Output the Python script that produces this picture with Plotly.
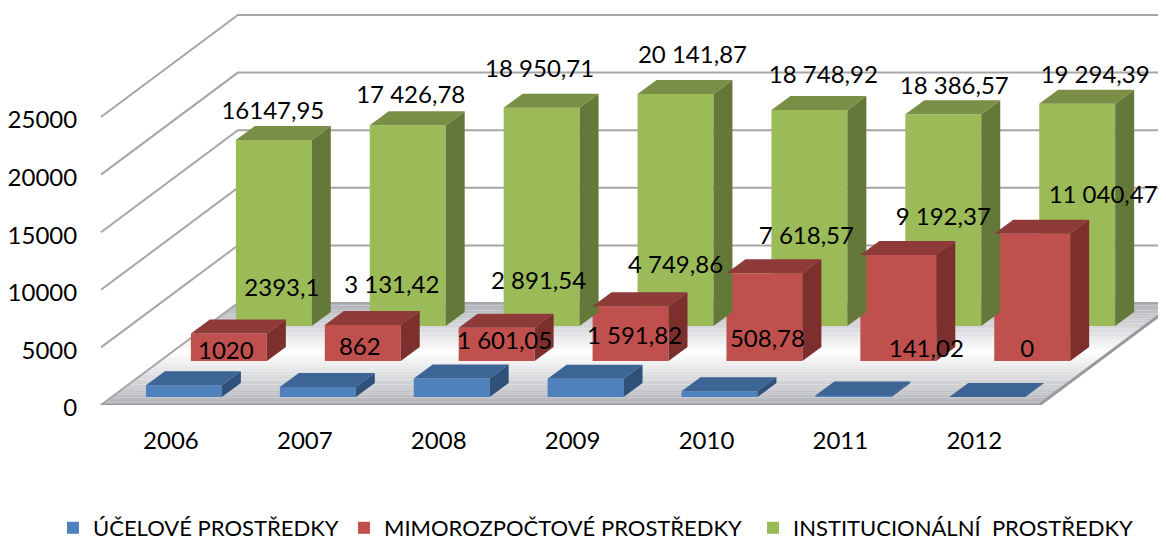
import plotly.graph_objects as go

years = ["2006", "2007", "2008", "2009", "2010", "2011", "2012"]
ucelove = [1020, 862, 1601.05, 1591.82, 508.78, 141.02, 0]
mimo = [2393.1, 3131.42, 2891.54, 4749.86, 7618.57, 9192.37, 11040.47]
inst = [16147.95, 17426.78, 18950.71, 20141.87, 18748.92, 18386.57, 19294.39]
labels_ucelove = ["1020", "862", "1 601,05", "1 591,82", "508,78", "141,02", "0"]
labels_mimo = ["2393,1", "3 131,42", "2 891,54", "4 749,86", "7 618,57", "9 192,37", "11 040,47"]
labels_inst = ["16147,95", "17 426,78", "18 950,71", "20 141,87", "18 748,92", "18 386,57", "19 294,39"]
names = ["ÚČELOVÉ PROSTŘEDKY", "MIMOROZPOČTOVÉ PROSTŘEDKY", "INSTITUCIONÁLNÍ\u00a0 PROSTŘEDKY"]
ticks = [0, 5000, 10000, 15000, 20000, 25000]

# Oblique projection, in pixels, of the pseudo-3D scene.
# The page has an 8 px body margin, so the figure is 8 px smaller and page px = figure px + 8.
PAGE = 8
W, H = 1166 - PAGE, 541 - PAGE
L, FLOOR_Y = 84 - PAGE, 405 - PAGE
X0, STEP = 173, 134          # px of category 0 on the front edge, px per category
PX_PER_V = 0.01152           # px per unit of value
WALL_DX, WALL_DY = 137, 102  # px offset of the whole depth
BAR_W = 76
BAR_DX, BAR_DY = 19, 14

def ux(px):
    return px / STEP

def uy(py):
    return py / PX_PER_V

X_RANGE = [(89 - X0) / STEP, (1168.9 - X0) / STEP]
Y_RANGE = [0, FLOOR_Y / PX_PER_V]
FLOOR_L, FLOOR_R = (103 - X0) / STEP, (1042 - X0) / STEP

series = [
    dict(vals=ucelove, text=labels_ucelove, name=names[0], sx=13, base=8, rank=1, legend="legend", lx=93,
         front="#4f81bd", top="#3c6494", side="#2f5079",
         ldx=[42, 42, 53, 49, 48, 73, 40], ldy=[32, 38, 36, 41, 50, 44, 46]),
    dict(vals=mimo, text=labels_mimo, name=names[1], sx=58, base=44, rank=2, legend="legend2", lx=384,
         front="#c0504d", top="#8e3a38", side="#7c2f2d",
         ldx=[53, 29, 42, 45, 42, 45, 71], ldy=[43, 38, 45, 39, 35, 36, 37]),
    dict(vals=inst, text=labels_inst, name=names[2], sx=103, base=79, rank=3, legend="legend3", lx=793,
         front="#9bbb59", top="#788f45", side="#64783a",
         ldx=[-1, 3, -2, 17, 14, 11, 18], ldy=[27, 28, 37, 37, 33, 26, 27]),
]

shapes = []

def poly(points):
    return "M" + " L".join(f"{a},{b}" for a, b in points) + " Z"

# Floor: banded vertical gradient, grey at both edges and white towards the front
N = 40
for k in range(N):
    t0, t1 = k / N, (k + 1) / N
    mid = (t0 + t1) / 2
    f = (0.52 - mid) / 0.52 if mid < 0.52 else (mid - 0.52) / 0.48
    c0 = (255, 255, 255)
    c1 = (176, 178, 184)
    col = tuple(round(c0[j] + (c1[j] - c0[j]) * f) for j in range(3))
    pts = [
        (FLOOR_L + ux(WALL_DX * t0), uy(WALL_DY * t0)),
        (FLOOR_R + ux(WALL_DX * t0), uy(WALL_DY * t0)),
        (FLOOR_R + ux(WALL_DX * t1), uy(WALL_DY * t1)),
        (FLOOR_L + ux(WALL_DX * t1), uy(WALL_DY * t1)),
    ]
    shapes.append(dict(type="path", path=poly(pts), xref="x", yref="y", layer="below",
                       fillcolor=f"rgb{col}", line=dict(width=0)))

GRID = "#a6a6a6"
for v in ticks:
    pts = [(FLOOR_L, v), (FLOOR_L + ux(WALL_DX), v + uy(WALL_DY)), (FLOOR_R + ux(WALL_DX), v + uy(WALL_DY))]
    path = "M" + " L".join(f"{a},{b}" for a, b in pts)
    shapes.append(dict(type="path", path=path, xref="x", yref="y", layer="below",
                       line=dict(color=GRID, width=2)))
# Floor's front and right edges
shapes.append(dict(type="path", xref="x", yref="y", layer="below",
                   path=f"M{FLOOR_L},0 L{FLOOR_R},0 L{FLOOR_R + ux(WALL_DX)},{uy(WALL_DY)}",
                   line=dict(color="#9a9a9a", width=3)))

fig = go.Figure()

# Back rows first
for s in reversed(series):
    xs = [i + ux(s["sx"]) for i in range(len(years))]
    fig.add_trace(go.Bar(
        x=xs, y=s["vals"], base=[uy(s["base"])] * len(xs), width=ux(BAR_W),
        name=s["name"], marker=dict(color=s["front"], line=dict(width=0)), hoverinfo="skip",
        legend=s["legend"],
    ))

for s in reversed(series):
    top_x, top_y, side_x, side_y = [], [], [], []
    b = uy(s["base"])
    for i, v in enumerate(s["vals"]):
        xl = i + ux(s["sx"] - BAR_W / 2)
        xr = i + ux(s["sx"] + BAR_W / 2)
        ddx, ddy = ux(BAR_DX), uy(BAR_DY)
        top_x += [xl, xr, xr + ddx, xl + ddx, xl, None]
        top_y += [b + v, b + v, b + v + ddy, b + v + ddy, b + v, None]
        side_x += [xr, xr + ddx, xr + ddx, xr, xr, None]
        side_y += [b, b + ddy, b + v + ddy, b + v, b, None]
    fig.add_trace(go.Scatter(x=side_x, y=side_y, mode="none", fill="toself",
                             fillcolor=s["side"], showlegend=False, hoverinfo="skip"))
    fig.add_trace(go.Scatter(x=top_x, y=top_y, mode="none", fill="toself",
                             fillcolor=s["top"], showlegend=False, hoverinfo="skip"))

for s in reversed(series):
    b = uy(s["base"])
    fig.add_trace(go.Scatter(
        x=[i + ux(s["sx"] + dx) for i, dx in enumerate(s["ldx"])],
        y=[b + v + uy(dy) for v, dy in zip(s["vals"], s["ldy"])],
        mode="text", text=s["text"], textposition="middle center",
        textfont=dict(family="Lato", size=24, color="#000000"),
        showlegend=False, hoverinfo="skip", cliponaxis=False,
    ))

def legend_at(text_px):
    return dict(orientation="h", xref="container", yref="container",
                x=(text_px - 40 - PAGE) / W, xanchor="left",
                y=1 - (507 - PAGE) / H, yanchor="top",
                font=dict(family="Lato", size=22, color="#000000"),
                bgcolor="rgba(0,0,0,0)")

fig.update_layout(
    width=W, height=H, autosize=False, barmode="overlay",
    margin=dict(l=L, r=0, t=0, b=H - FLOOR_Y, pad=0),
    paper_bgcolor="#ffffff", plot_bgcolor="rgba(0,0,0,0)",
    font=dict(family="Lato", size=24, color="#000000"),
    shapes=shapes, showlegend=True,
    legend=legend_at(series[0]["lx"]),
    legend2=legend_at(series[1]["lx"]),
    legend3=legend_at(series[2]["lx"]),
    xaxis=dict(range=X_RANGE, tickvals=list(range(len(years))), ticktext=years,
               showgrid=False, zeroline=False, showline=False, ticks="outside", ticklen=14,
               tickcolor="rgba(0,0,0,0)", tickfont=dict(family="Lato", size=24)),
    yaxis=dict(range=Y_RANGE, tickvals=ticks, ticktext=[str(t) for t in ticks],
               showgrid=False, zeroline=False, showline=False, ticks="outside", ticklen=4,
               ticklabelshift=3, tickcolor="rgba(0,0,0,0)", tickfont=dict(family="Lato", size=24)),
)

fig.write_html("out.html")
